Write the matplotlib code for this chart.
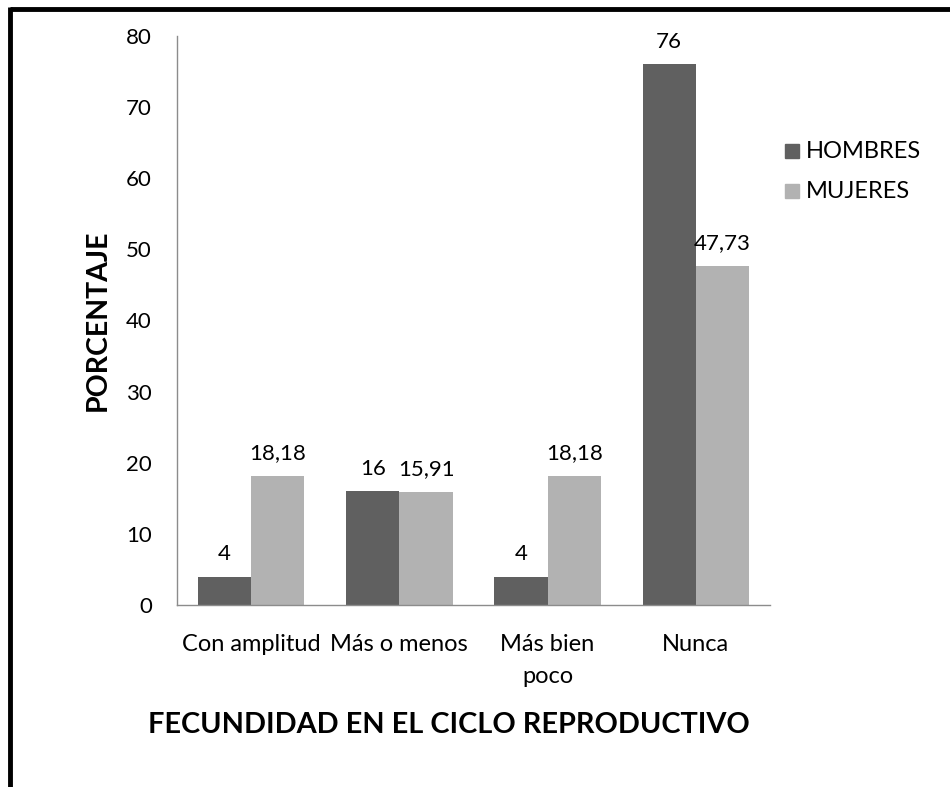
import matplotlib
matplotlib.use("Agg")
import matplotlib.pyplot as plt
import numpy as np
from matplotlib.lines import Line2D

categories = ["Con amplitud", "Más o menos", "Más bien\npoco", "Nunca"]
hombres = [4, 16, 4, 76]
mujeres = [18.18, 15.91, 18.18, 47.73]
series_names = ["HOMBRES", "MUJERES"]
yticks = [0, 10, 20, 30, 40, 50, 60, 70, 80]

plt.rcParams['font.family'] = ['Lato', 'DejaVu Sans']

W, H = 950, 787
fig = plt.figure(figsize=(W/100, H/100), dpi=100)
ax = fig.add_axes([177/W, 1-605/H, (770-177)/W, (605-36)/H])

x = np.arange(len(categories))
bw = 0.36
c1, c2 = "#606060", "#b2b2b2"
FS = 16.5
b1 = ax.bar(x - bw/2, hombres, bw, color=c1, label=series_names[0])
b2 = ax.bar(x + bw/2, mujeres, bw, color=c2, label=series_names[1])

def fmt(v):
    return ("%g" % v).replace(".", ",")

for bars, vals in ((b1, hombres), (b2, mujeres)):
    for r, v in zip(bars, vals):
        ax.annotate(fmt(v), (r.get_x() + r.get_width()/2, v), xytext=(0, 9),
                    textcoords="offset points", ha="center", va="bottom", fontsize=16)

ax.set_xlim(-0.5, len(categories) - 0.5)
ax.set_ylim(0, 80)
ax.set_yticks(yticks)
ax.set_yticklabels([str(t) for t in yticks], fontsize=16)
ax.set_xticks(x)
ax.set_xticklabels(categories, fontsize=FS + 0.5, linespacing=1.65, va="top")
ax.tick_params(axis="y", length=0, pad=18)
ax.tick_params(axis="x", length=0, pad=21)
for s in ("top", "right"):
    ax.spines[s].set_visible(False)
for s in ("left", "bottom"):
    ax.spines[s].set_color("#8c8c8c")
    ax.spines[s].set_linewidth(1)

fig.text(98/W, 1-320/H, "PORCENTAJE", rotation=90, ha="center", va="center",
         fontsize=20.5, fontweight="bold")
fig.text(449/W, 1-725/H, "FECUNDIDAD EN EL CICLO REPRODUCTIVO", ha="center", va="center",
         fontsize=20.8, fontweight="bold")

# legend
for i, (name, c) in enumerate(zip(series_names, (c1, c2))):
    yy = 1 - (151 + 40*i)/H
    fig.patches.append(plt.Rectangle((785/W, yy - 7/H), 14/W, 14/H, color=c,
                                     transform=fig.transFigure, figure=fig))
    fig.text(806/W, yy, name, ha="left", va="center", fontsize=FS + 0.5)

# outer border (top and left only)
fig.add_artist(Line2D([9.5/W, 1], [1-8.5/H, 1-8.5/H], color="black", lw=3.5,
                      transform=fig.transFigure, solid_capstyle="butt"))
fig.add_artist(Line2D([9.5/W, 9.5/W], [0, 1-7/H], color="black", lw=3.5,
                      transform=fig.transFigure, solid_capstyle="butt"))

fig.savefig("out.png", dpi=100)
